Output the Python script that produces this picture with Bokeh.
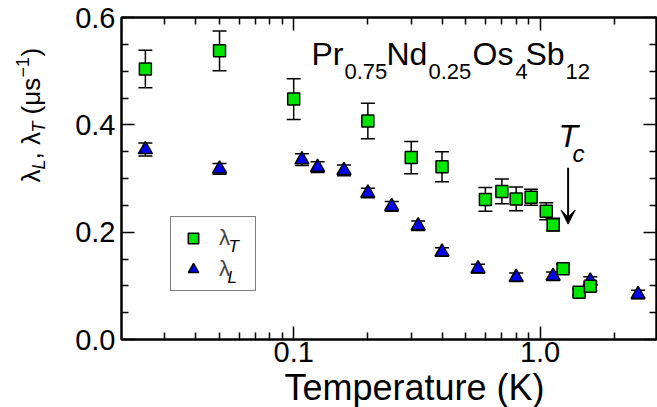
from bokeh.plotting import figure
from bokeh.layouts import row
from bokeh.models import (LogAxis, LinearAxis, FixedTicker, Whisker, TeeHead, ColumnDataSource,
                          Label, Legend, LegendItem, Arrow, VeeHead, PrintfTickFormatter,
                          CustomJSTickFormatter, Range1d, Title)
from bokeh.embed import file_html
from bokeh.resources import INLINE

# ---------------- data ----------------
temp_T = [0.025, 0.05, 0.1, 0.2, 0.3, 0.4, 0.6, 0.7, 0.8, 0.92, 1.06, 1.13, 1.24, 1.44, 1.6]
lam_T = [0.504, 0.538, 0.448, 0.407, 0.339, 0.322, 0.261, 0.276, 0.262, 0.265, 0.239, 0.214, 0.132, 0.088, 0.099]
err_T = [0.035, 0.037, 0.038, 0.033, 0.030, 0.028, 0.022, 0.023, 0.022, 0.015, 0.016, 0.012, 0.008, 0.006, 0.008]

temp_L = [0.025, 0.05, 0.108, 0.125, 0.16, 0.2, 0.25, 0.32, 0.4, 0.56, 0.8, 1.13, 1.6, 2.5]
lam_L = [0.354, 0.318, 0.335, 0.321, 0.315, 0.273, 0.248, 0.212, 0.163, 0.132, 0.116, 0.118, 0.109, 0.084]
err_L = [0.012, 0.010, 0.011, 0.010, 0.010, 0.009, 0.009, 0.009, 0.008, 0.008, 0.008, 0.008, 0.008, 0.008]

x_ticks = [0.1, 1.0]
x_minor = [0.03, 0.04, 0.05, 0.06, 0.07, 0.08, 0.09, 0.2, 0.3, 0.4, 0.5, 0.6, 0.7, 0.8, 0.9, 2.0, 3.0]
y_ticks = [0.0, 0.2, 0.4, 0.6]
y_minor = [0.05, 0.1, 0.15, 0.25, 0.3, 0.35, 0.45, 0.5, 0.55]

Tc = 1.3
arrow_top = 0.32
arrow_bottom = 0.215

FONT = "Liberation Sans"
GREEN = "#00e600"
BLUE = "#0000ee"

W_YLAB = 60
H = 407
BASE_SHIFT = 0.37   # renderer places the 'alphabetic' baseline this many font-sizes low

p = figure(width=657 - W_YLAB, height=H, x_axis_type="log", x_range=(0.02, 2.97), y_range=(0, 0.6),
           output_backend="svg", toolbar_location=None,
           min_border_left=61, min_border_right=1, min_border_top=17, min_border_bottom=H - 339)
p.xgrid.visible = False
p.ygrid.visible = False
p.outline_line_color = "black"
p.outline_line_width = 2

def style_axis(ax, ticks, minor, show_labels):
    ax.ticker = FixedTicker(ticks=ticks, minor_ticks=minor)
    ax.major_tick_in = 13
    ax.major_tick_out = 0
    ax.minor_tick_in = 7
    ax.minor_tick_out = 0
    ax.major_tick_line_width = 1.5
    ax.minor_tick_line_width = 1.5
    ax.axis_line_width = 2
    ax.major_tick_line_color = "black"
    ax.minor_tick_line_color = "black"
    if show_labels:
        ax.formatter = PrintfTickFormatter(format="%.1f")
        ax.major_label_text_font = FONT
        ax.major_label_text_font_size = "29px"
        ax.major_label_text_color = "black"
        ax.major_label_standoff = 2
    else:
        ax.formatter = CustomJSTickFormatter(code="return ''")
        ax.major_label_text_font_size = "0px"
        ax.major_label_standoff = 0

style_axis(p.xaxis[0], x_ticks, x_minor, True)
style_axis(p.yaxis[0], y_ticks, y_minor, True)
p.yaxis[0].major_label_standoff = 6
top_ax = LogAxis()
style_axis(top_ax, x_ticks, x_minor, False)
p.add_layout(top_ax, "above")
right_ax = LinearAxis()
style_axis(right_ax, y_ticks, y_minor, False)
p.add_layout(right_ax, "right")

# x axis title, placed right of the frame centre as in the original
p.add_layout(Title(text="Temperature (K)", align="left", offset=163, standoff=0,
                   text_font=FONT, text_font_size="36px", text_font_style="normal",
                   text_color="black"), "below")

# ---------------- data marks ----------------
srcL = ColumnDataSource(dict(x=temp_L, y=lam_L,
                             upper=[v + e for v, e in zip(lam_L, err_L)],
                             lower=[v - e for v, e in zip(lam_L, err_L)]))
srcT = ColumnDataSource(dict(x=temp_T, y=lam_T,
                             upper=[v + e for v, e in zip(lam_T, err_T)],
                             lower=[v - e for v, e in zip(lam_T, err_T)]))

for src in (srcL, srcT):
    p.add_layout(Whisker(base="x", upper="upper", lower="lower", source=src, dimension="height",
                         line_color="black", line_width=1.5,
                         upper_head=TeeHead(size=14, line_width=1.5, line_color="black"),
                         lower_head=TeeHead(size=14, line_width=1.5, line_color="black")))

tri = p.scatter("x", "y", source=srcL, marker="triangle", size=14, fill_color=BLUE,
                line_color="black", line_width=1.5)
sq = p.scatter("x", "y", source=srcT, marker="square", size=12, fill_color=GREEN,
               line_color="black", line_width=1.5)

# ---------------- legend ----------------
legend = Legend(items=[LegendItem(label="λ", renderers=[sq]), LegendItem(label="λ", renderers=[tri])],
                location=(49, 48), margin=0, padding=8, spacing=5,
                glyph_width=28, glyph_height=26, label_height=26, label_width=28, label_standoff=12,
                label_text_font=FONT, label_text_font_size="22px",
                border_line_color="black", border_line_width=1.5,
                background_fill_alpha=0.0, level="annotation")
p.add_layout(legend)

def lab(fig, x, y, text, size, italic=False, angle=0, align="left"):
    # (x, y): wanted baseline start, in pixels from the frame's bottom-left corner
    if angle == 0:
        y = y + BASE_SHIFT * size
    else:
        x = x - BASE_SHIFT * size
    fig.add_layout(Label(x=x, y=y, x_units="screen", y_units="screen", text=text,
                         text_font=FONT, text_font_size=f"{size}px",
                         text_font_style="italic" if italic else "normal",
                         text_color="black", text_align=align, text_baseline="alphabetic",
                         angle=angle, angle_units="deg", level="overlay"))

# legend subscripts
lab(p, 107, 87, "T", 17, italic=True)
lab(p, 106, 56, "L", 17, italic=True)

# compound title
main_y, sub_y = 274, 260
for x, t, sub in [(190, "Pr", False), (223, "0.75", True), (265, "Nd", False), (307, "0.25", True),
                  (351, "Os", False), (394, "4", True), (404, "Sb", False), (444, "12", True)]:
    lab(p, x, sub_y if sub else main_y, t, 22 if sub else 32)

# Tc annotation
lab(p, 437, 192, "T", 32, italic=True)
lab(p, 451, 177, "c", 24, italic=True)
p.add_layout(Arrow(end=VeeHead(size=14, fill_color="black", line_color="black", line_width=1),
                   x_start=Tc, y_start=arrow_top, x_end=Tc, y_end=arrow_bottom,
                   line_width=2, line_color="black"))

# ---------------- y axis title (own strip) ----------------
fy = figure(width=W_YLAB, height=H, x_range=Range1d(0, 1), y_range=Range1d(0, 1),
            output_backend="svg", toolbar_location=None, title=None,
            x_axis_location=None, y_axis_location=None, min_border=0)
fy.xgrid.visible = False
fy.ygrid.visible = False
fy.outline_line_color = None

bx = 40
y0 = 157
for dy, t, size, dx, it in [(0, "λ", 26, 0, False), (13, "L", 18, 5, True), (23, ", λ", 26, 0, False),
                            (50, "T", 18, 5, True), (68, "(μs", 26, 0, False), (105, "−1", 18, -11, False),
                            (126, ")", 26, 0, False)]:
    lab(fy, bx + dx, y0 + dy, t, size, italic=it, angle=90)

layout = row(fy, p)
open("out.html", "w").write(file_html(layout, INLINE))
